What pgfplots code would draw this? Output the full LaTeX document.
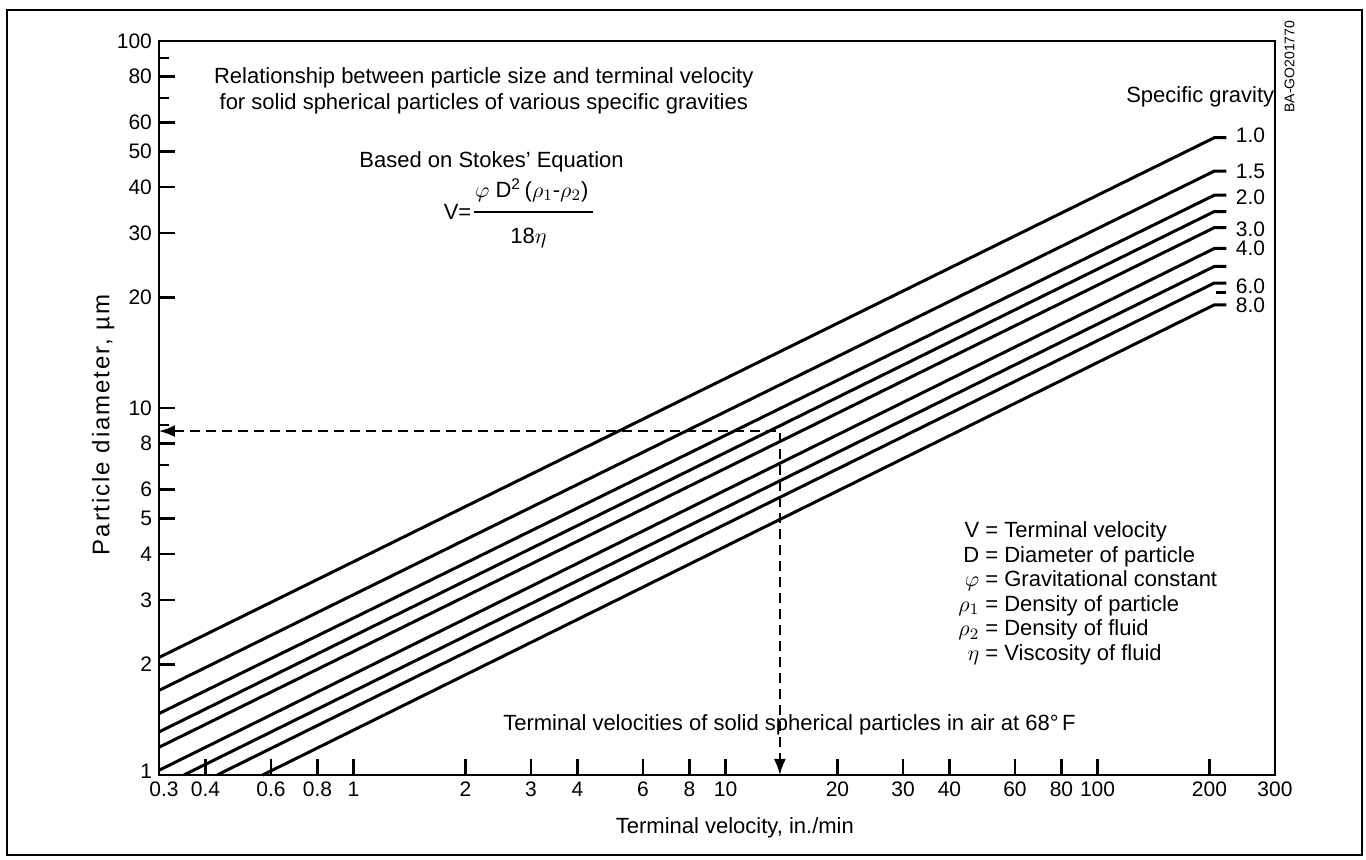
\documentclass[border=0pt]{standalone}
\usepackage{pgfplots}
\pgfplotsset{compat=1.18}
\usepackage{fontspec}
\setmainfont{Liberation Sans}
\usetikzlibrary{arrows.meta}

\pgfplotsset{sgline/.style={black, line width=1.5pt, mark=none}}

\begin{document}
\begin{tikzpicture}
\begin{axis}[
  at={(0,0)}, anchor=south west,
  scale only axis, width=558pt, height=367pt,
  xmode=log, ymode=log,
  xmin=0.3, xmax=300, ymin=1, ymax=100,
  axis line style={line width=1.4pt},
  tick pos=left, tick align=inside,
  major tick length=8pt, minor tick length=5pt,
  every tick/.style={line width=1.2pt, black},
  xtick={0.3,0.4,0.6,0.8,1,2,3,4,6,8,10,20,30,40,60,80,100,200,300},
  xticklabels={\hspace*{5pt}0.3,0.4,0.6,0.8,1,2,3,4,6,8,10,20,30,40,60,80,100,200,300},
  ytick={1,2,3,4,5,6,8,10,20,30,40,50,60,80,100},
  yticklabels={\raisebox{4pt}{1},2,3,4,5,6,8,10,20,30,40,50,60,80,100},
  minor xtick={}, minor ytick={7,9,70,90},
  ticklabel style={font=\fontsize{10.5}{12}\selectfont},
  /pgf/number format/assume math mode=true,
  xlabel={Terminal velocity, in./min},
  ylabel={Particle diameter, µm},
  every axis x label/.style={at={(axis description cs:0.516,-0.072)}, anchor=center, font=\fontsize{11}{13}\selectfont},
  every axis y label/.style={at={(axis description cs:-0.05,0.477)}, rotate=90, anchor=center,
    font=\fontsize{12}{14}\selectfont\addfontfeature{LetterSpace=8}},
  clip=false,
]
% specific gravity lines (start, V=206, short flat tail)
\addplot[sgline] coordinates {(0.3,2.09) (206,54.5) (222,54.5)};  % 1.0
\addplot[sgline] coordinates {(0.3,1.70) (206,44.2) (222,44.2)};  % 1.5
\addplot[sgline] coordinates {(0.3,1.47) (206,38.0) (222,38.0)};  % 2.0
\addplot[sgline] coordinates {(0.3,1.31) (206,34.3) (222,34.3)};  % 2.5
\addplot[sgline] coordinates {(0.3,1.19) (206,31.0) (222,31.0)};  % 3.0
\addplot[sgline] coordinates {(0.3,1.03) (206,27.2) (222,27.2)};  % 4.0
\addplot[sgline] coordinates {(0.35,1) (206,24.3) (222,24.3)};    % 5.0
\addplot[sgline] coordinates {(0.43,1) (206,21.9) (222,21.9)};    % 6.0
\addplot[sgline] coordinates {(0.57,1) (206,19.1) (222,19.1)};    % 8.0
\addplot[sgline] coordinates {(208,20.6) (222,20.6)};             % 7.0 stub

% worked example
\addplot[black, mark=none, line width=1pt, dash pattern=on 5pt off 3pt, {Latex[length=8pt,width=6pt]}-{Latex[length=8pt,width=6pt]}]
  coordinates {(0.3,8.65) (14,8.65) (14,1)};

% right-hand labels
\begin{scope}[every node/.style={anchor=west, font=\fontsize{10.5}{12}\selectfont, inner sep=0pt}]
\node at (axis cs:235,55.4) {1.0};
\node at (axis cs:235,44.2) {1.5};
\node at (axis cs:235,37.6) {2.0};
\node at (axis cs:235,30.7) {3.0};
\node at (axis cs:235,27.2) {4.0};
\node at (axis cs:235,21.5) {6.0};
\node at (axis cs:235,19.0) {8.0};
\end{scope}
\node[font=\fontsize{11}{13}\selectfont] at (rel axis cs:0.933,0.924) {Specific gravity};

\node[font=\fontsize{11}{13}\selectfont, align=center] at (rel axis cs:0.291,0.932)
  {Relationship between particle size and terminal velocity\\for solid spherical particles of various specific gravities};

\node[font=\fontsize{11}{13}\selectfont] at (rel axis cs:0.298,0.835) {Based on Stokes' Equation};
\node[font=\fontsize{11}{13}\selectfont, anchor=east, inner sep=1pt] at (rel axis cs:0.282,0.767) {V=};
\draw[line width=0.7pt] (rel axis cs:0.282,0.767) -- (rel axis cs:0.389,0.767);
\node[font=\fontsize{11}{13}\selectfont] at (rel axis cs:0.334,0.797)
  {$\varphi$ D\textsuperscript{2}\,($\rho_1$-$\rho_2$)};
\node[font=\fontsize{11}{13}\selectfont] at (rel axis cs:0.331,0.732) {18$\eta$};

\node[font=\fontsize{11}{12.25}\selectfont, anchor=base west, inner sep=0pt] at (rel axis cs:0.716,0.323)
  {\begin{tabular}[t]{@{}r@{\ =\ }l@{}}
   V & Terminal velocity\\
   D & Diameter of particle\\
   $\varphi$ & Gravitational constant\\
   $\rho_1$ & Density of particle\\
   $\rho_2$ & Density of fluid\\
   $\eta$ & Viscosity of fluid
   \end{tabular}};

\node[font=\fontsize{11}{13}\selectfont] at (rel axis cs:0.565,0.068)
  {Terminal velocities of solid spherical particles in air at 68°\,F};

\node[font=\fontsize{7}{8}\selectfont, rotate=90] at (rel axis cs:1.013,0.965) {BA-GO201770};
\end{axis}
% outer frame
\draw[line width=1pt] (-76pt,-40pt) rectangle (601.5pt,382.5pt);
\pgfresetboundingbox
\useasboundingbox (-79.5pt,-42.5pt) rectangle (603.5pt,387.5pt);
\end{tikzpicture}
\end{document}
